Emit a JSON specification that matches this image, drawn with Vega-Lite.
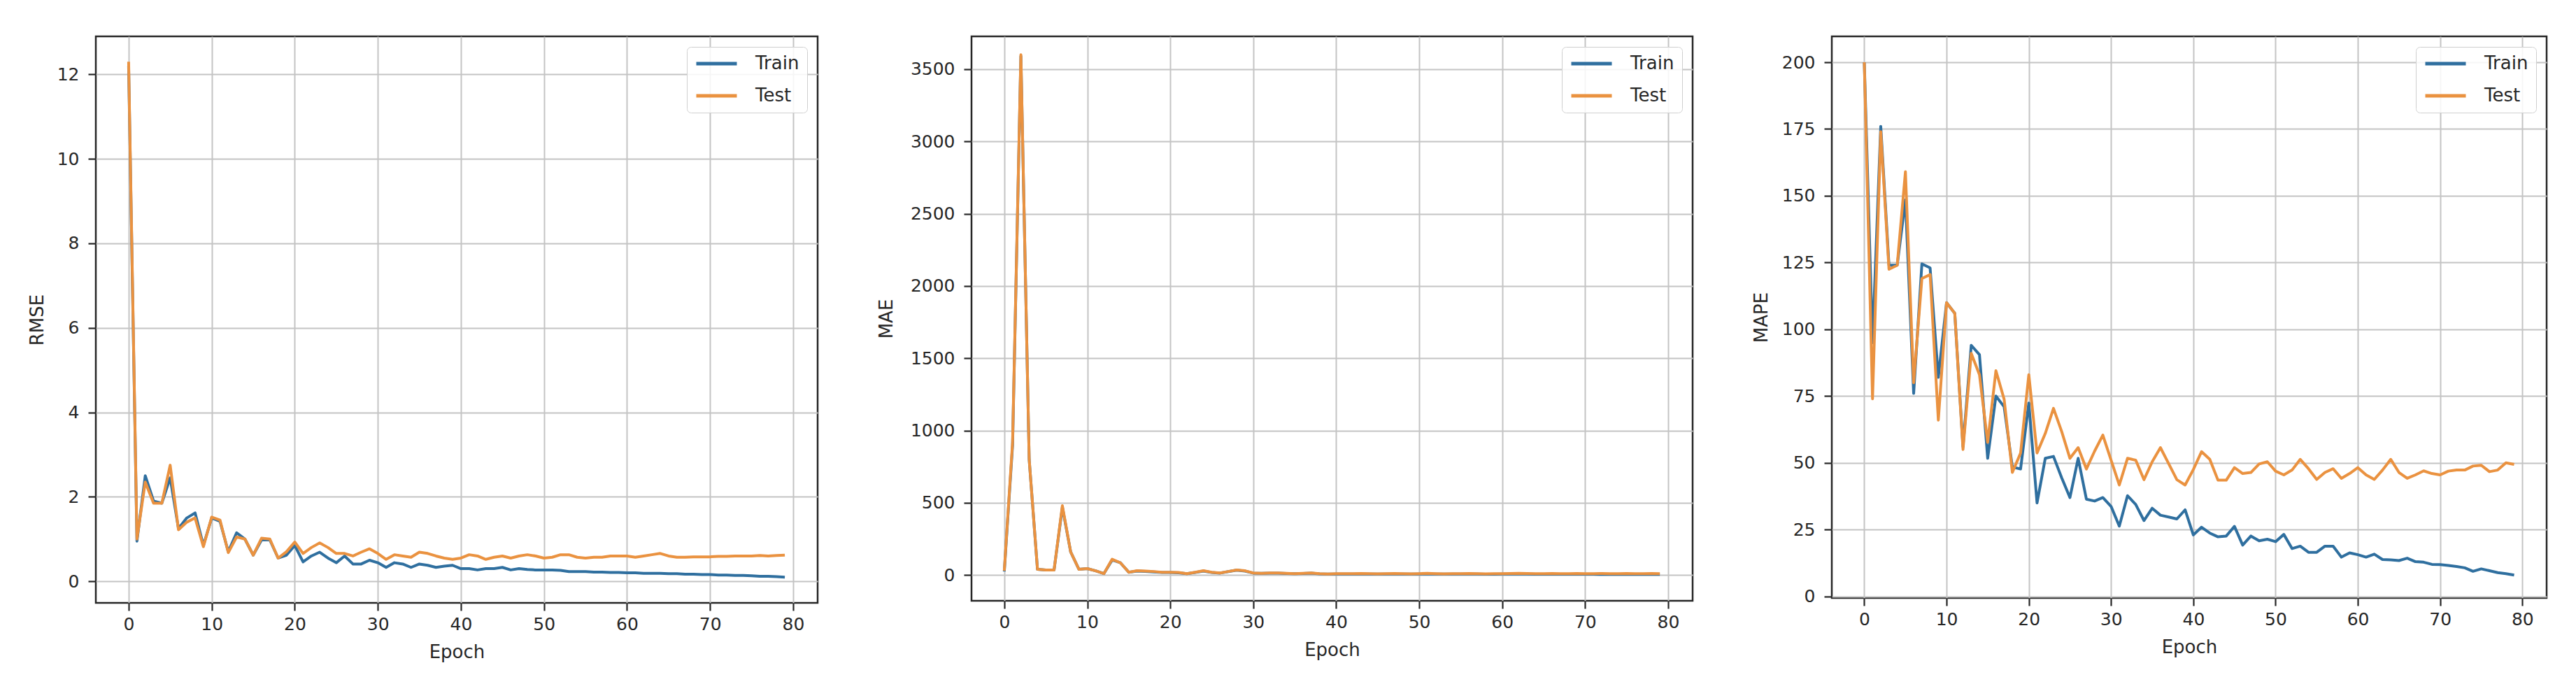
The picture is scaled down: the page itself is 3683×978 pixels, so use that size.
{
  "$schema": "https://vega.github.io/schema/vega-lite/v6.json",
  "background": "white",
  "padding": {"left": 38, "top": 50, "right": 0, "bottom": 0},
  "config": {
    "font": "DejaVu Sans",
    "view": {"stroke": "#262626", "strokeWidth": 2.5},
    "axis": {"domain": false, "grid": true, "gridColor": "#c4c4c4", "gridWidth": 2, "tickColor": "#262626", "tickWidth": 2.2, "tickSize": 11, "labelFont": "DejaVu Sans", "labelFontSize": 25, "labelColor": "#262626", "titleFont": "DejaVu Sans", "titleFontSize": 26, "titleFontWeight": "normal", "titleColor": "#262626", "labelOverlap": false},
    "axisX": {"labelPadding": 7, "titlePadding": 14},
    "axisY": {"labelPadding": 13},
    "legend": {"orient": "top-right", "offset": 15, "padding": 11, "fillColor": "rgba(255,255,255,0.85)", "strokeColor": "#cfcfcf", "cornerRadius": 6, "symbolType": "stroke", "symbolSize": 3364, "symbolStrokeWidth": 5, "clipHeight": 26, "rowPadding": 20, "labelOffset": 24, "labelFont": "DejaVu Sans", "labelFontSize": 26, "labelColor": "#262626"}
  },
  "datasets": {
    "rmse": [
      {"epoch":0,"Train":12.2,"Test":12.3},{"epoch":1,"Train":0.95,"Test":1.0},{"epoch":2,"Train":2.5,"Test":2.35},{"epoch":3,"Train":1.9,"Test":1.85},{"epoch":4,"Train":1.85,"Test":1.85},{"epoch":5,"Train":2.45,"Test":2.75},{"epoch":6,"Train":1.25,"Test":1.22},{"epoch":7,"Train":1.5,"Test":1.4},{"epoch":8,"Train":1.62,"Test":1.5},{"epoch":9,"Train":0.85,"Test":0.82},
      {"epoch":10,"Train":1.5,"Test":1.52},{"epoch":11,"Train":1.42,"Test":1.45},{"epoch":12,"Train":0.7,"Test":0.68},{"epoch":13,"Train":1.15,"Test":1.05},{"epoch":14,"Train":1.0,"Test":1.0},{"epoch":15,"Train":0.62,"Test":0.62},{"epoch":16,"Train":0.98,"Test":1.02},{"epoch":17,"Train":0.98,"Test":1.0},{"epoch":18,"Train":0.55,"Test":0.55},{"epoch":19,"Train":0.62,"Test":0.7},
      {"epoch":20,"Train":0.85,"Test":0.93},{"epoch":21,"Train":0.46,"Test":0.66},{"epoch":22,"Train":0.6,"Test":0.8},{"epoch":23,"Train":0.69,"Test":0.91},{"epoch":24,"Train":0.55,"Test":0.8},{"epoch":25,"Train":0.44,"Test":0.66},{"epoch":26,"Train":0.6,"Test":0.66},{"epoch":27,"Train":0.41,"Test":0.6},{"epoch":28,"Train":0.41,"Test":0.69},{"epoch":29,"Train":0.5,"Test":0.77},
      {"epoch":30,"Train":0.44,"Test":0.66},{"epoch":31,"Train":0.33,"Test":0.52},{"epoch":32,"Train":0.44,"Test":0.63},{"epoch":33,"Train":0.41,"Test":0.6},{"epoch":34,"Train":0.33,"Test":0.57},{"epoch":35,"Train":0.41,"Test":0.69},{"epoch":36,"Train":0.38,"Test":0.66},{"epoch":37,"Train":0.33,"Test":0.6},{"epoch":38,"Train":0.36,"Test":0.55},{"epoch":39,"Train":0.38,"Test":0.52},
      {"epoch":40,"Train":0.3,"Test":0.55},{"epoch":41,"Train":0.3,"Test":0.63},{"epoch":42,"Train":0.27,"Test":0.6},{"epoch":43,"Train":0.3,"Test":0.52},{"epoch":44,"Train":0.3,"Test":0.57},{"epoch":45,"Train":0.33,"Test":0.6},{"epoch":46,"Train":0.27,"Test":0.55},{"epoch":47,"Train":0.3,"Test":0.6},{"epoch":48,"Train":0.28,"Test":0.63},{"epoch":49,"Train":0.27,"Test":0.6},
      {"epoch":50,"Train":0.27,"Test":0.55},{"epoch":51,"Train":0.27,"Test":0.57},{"epoch":52,"Train":0.26,"Test":0.63},{"epoch":53,"Train":0.23,"Test":0.63},{"epoch":54,"Train":0.23,"Test":0.57},{"epoch":55,"Train":0.23,"Test":0.55},{"epoch":56,"Train":0.22,"Test":0.57},{"epoch":57,"Train":0.22,"Test":0.57},{"epoch":58,"Train":0.21,"Test":0.6},{"epoch":59,"Train":0.21,"Test":0.6},
      {"epoch":60,"Train":0.2,"Test":0.6},{"epoch":61,"Train":0.2,"Test":0.57},{"epoch":62,"Train":0.19,"Test":0.6},{"epoch":63,"Train":0.19,"Test":0.63},{"epoch":64,"Train":0.19,"Test":0.66},{"epoch":65,"Train":0.18,"Test":0.6},{"epoch":66,"Train":0.18,"Test":0.57},{"epoch":67,"Train":0.17,"Test":0.57},{"epoch":68,"Train":0.17,"Test":0.58},{"epoch":69,"Train":0.16,"Test":0.58},
      {"epoch":70,"Train":0.16,"Test":0.58},{"epoch":71,"Train":0.15,"Test":0.59},{"epoch":72,"Train":0.15,"Test":0.59},{"epoch":73,"Train":0.14,"Test":0.6},{"epoch":74,"Train":0.14,"Test":0.6},{"epoch":75,"Train":0.13,"Test":0.6},{"epoch":76,"Train":0.12,"Test":0.61},{"epoch":77,"Train":0.12,"Test":0.6},{"epoch":78,"Train":0.11,"Test":0.61},{"epoch":79,"Train":0.1,"Test":0.62}
    ],
    "mae": [
      {"epoch":0,"Train":25,"Test":30},{"epoch":1,"Train":900,"Test":920},{"epoch":2,"Train":3590,"Test":3600},{"epoch":3,"Train":800,"Test":800},{"epoch":4,"Train":40,"Test":40},{"epoch":5,"Train":35,"Test":35},{"epoch":6,"Train":35,"Test":35},{"epoch":7,"Train":470,"Test":480},{"epoch":8,"Train":160,"Test":160},{"epoch":9,"Train":40,"Test":40},
      {"epoch":10,"Train":45,"Test":45},{"epoch":11,"Train":30,"Test":30},{"epoch":12,"Train":10,"Test":10},{"epoch":13,"Train":105,"Test":110},{"epoch":14,"Train":85,"Test":85},{"epoch":15,"Train":20,"Test":20},{"epoch":16,"Train":28,"Test":30},{"epoch":17,"Train":26,"Test":28},{"epoch":18,"Train":22,"Test":25},{"epoch":19,"Train":18,"Test":20},
      {"epoch":20,"Train":18,"Test":20},{"epoch":21,"Train":16,"Test":18},{"epoch":22,"Train":10,"Test":10},{"epoch":23,"Train":18,"Test":20},{"epoch":24,"Train":28,"Test":30},{"epoch":25,"Train":18,"Test":20},{"epoch":26,"Train":14,"Test":15},{"epoch":27,"Train":24,"Test":25},{"epoch":28,"Train":34,"Test":35},{"epoch":29,"Train":28,"Test":30},
      {"epoch":30,"Train":14,"Test":15},{"epoch":31,"Train":12,"Test":12},{"epoch":32,"Train":14,"Test":15},{"epoch":33,"Train":14,"Test":15},{"epoch":34,"Train":11,"Test":12},{"epoch":35,"Train":10,"Test":10},{"epoch":36,"Train":11,"Test":12},{"epoch":37,"Train":14,"Test":15},{"epoch":38,"Train":9,"Test":10},{"epoch":39,"Train":8,"Test":8},
      {"epoch":40,"Train":8,"Test":10},{"epoch":41,"Train":8,"Test":10},{"epoch":42,"Train":8,"Test":10},{"epoch":43,"Train":8,"Test":11},{"epoch":44,"Train":7,"Test":10},{"epoch":45,"Train":7,"Test":9},{"epoch":46,"Train":8,"Test":10},{"epoch":47,"Train":8,"Test":11},{"epoch":48,"Train":7,"Test":10},{"epoch":49,"Train":7,"Test":9},
      {"epoch":50,"Train":7,"Test":10},{"epoch":51,"Train":8,"Test":12},{"epoch":52,"Train":7,"Test":10},{"epoch":53,"Train":7,"Test":9},{"epoch":54,"Train":7,"Test":10},{"epoch":55,"Train":7,"Test":10},{"epoch":56,"Train":7,"Test":11},{"epoch":57,"Train":7,"Test":10},{"epoch":58,"Train":6,"Test":9},{"epoch":59,"Train":6,"Test":10},
      {"epoch":60,"Train":7,"Test":10},{"epoch":61,"Train":7,"Test":11},{"epoch":62,"Train":7,"Test":12},{"epoch":63,"Train":7,"Test":11},{"epoch":64,"Train":6,"Test":10},{"epoch":65,"Train":6,"Test":10},{"epoch":66,"Train":6,"Test":11},{"epoch":67,"Train":6,"Test":10},{"epoch":68,"Train":6,"Test":10},{"epoch":69,"Train":6,"Test":11},
      {"epoch":70,"Train":6,"Test":10},{"epoch":71,"Train":6,"Test":10},{"epoch":72,"Train":5,"Test":11},{"epoch":73,"Train":5,"Test":10},{"epoch":74,"Train":5,"Test":10},{"epoch":75,"Train":5,"Test":11},{"epoch":76,"Train":5,"Test":10},{"epoch":77,"Train":5,"Test":10},{"epoch":78,"Train":5,"Test":11},{"epoch":79,"Train":5,"Test":10}
    ],
    "mape": [
      {"epoch":0,"Train":200,"Test":200},{"epoch":1,"Train":95,"Test":74},{"epoch":2,"Train":176,"Test":174},{"epoch":3,"Train":124,"Test":122.5},{"epoch":4,"Train":124,"Test":124},{"epoch":5,"Train":148.5,"Test":159},{"epoch":6,"Train":76,"Test":80},{"epoch":7,"Train":124.5,"Test":119},{"epoch":8,"Train":123,"Test":120.5},{"epoch":9,"Train":82,"Test":66},
      {"epoch":10,"Train":110,"Test":110},{"epoch":11,"Train":106,"Test":106},{"epoch":12,"Train":56,"Test":55},{"epoch":13,"Train":94,"Test":91},{"epoch":14,"Train":90.5,"Test":83},{"epoch":15,"Train":51.7,"Test":57.7},{"epoch":16,"Train":75,"Test":84.5},{"epoch":17,"Train":71,"Test":73.8},{"epoch":18,"Train":48.4,"Test":46.4},{"epoch":19,"Train":47.7,"Test":53.7},
      {"epoch":20,"Train":72.4,"Test":83},{"epoch":21,"Train":35,"Test":53.7},{"epoch":22,"Train":51.7,"Test":61},{"epoch":23,"Train":52.4,"Test":70.4},{"epoch":24,"Train":44.4,"Test":61.7},{"epoch":25,"Train":37,"Test":51.7},{"epoch":26,"Train":51.7,"Test":55.7},{"epoch":27,"Train":36.4,"Test":47.7},{"epoch":28,"Train":35.7,"Test":54.4},{"epoch":29,"Train":37,"Test":60.4},
      {"epoch":30,"Train":33.7,"Test":51},{"epoch":31,"Train":26.3,"Test":41.7},{"epoch":32,"Train":37.7,"Test":51.7},{"epoch":33,"Train":34.4,"Test":51},{"epoch":34,"Train":28.4,"Test":43.7},{"epoch":35,"Train":33,"Test":50.4},{"epoch":36,"Train":30.4,"Test":55.7},{"epoch":37,"Train":29.7,"Test":49.7},{"epoch":38,"Train":29,"Test":43.7},{"epoch":39,"Train":32.4,"Test":41.7},
      {"epoch":40,"Train":23,"Test":47.5},{"epoch":41,"Train":25.9,"Test":54.2},{"epoch":42,"Train":23.7,"Test":51.3},{"epoch":43,"Train":22.3,"Test":43.5},{"epoch":44,"Train":22.6,"Test":43.5},{"epoch":45,"Train":26.2,"Test":48.2},{"epoch":46,"Train":19.2,"Test":46},{"epoch":47,"Train":22.6,"Test":46.4},{"epoch":48,"Train":20.8,"Test":49.6},{"epoch":49,"Train":21.4,"Test":50.4},
      {"epoch":50,"Train":20.5,"Test":46.9},{"epoch":51,"Train":23.2,"Test":45.5},{"epoch":52,"Train":17.9,"Test":47.3},{"epoch":53,"Train":18.8,"Test":51.3},{"epoch":54,"Train":16.5,"Test":47.8},{"epoch":55,"Train":16.5,"Test":43.8},{"epoch":56,"Train":18.8,"Test":46.4},{"epoch":57,"Train":18.8,"Test":47.8},{"epoch":58,"Train":14.7,"Test":44.2},{"epoch":59,"Train":16.3,"Test":46},
      {"epoch":60,"Train":15.6,"Test":48.2},{"epoch":61,"Train":14.7,"Test":45.5},{"epoch":62,"Train":15.8,"Test":43.8},{"epoch":63,"Train":13.8,"Test":47.3},{"epoch":64,"Train":13.7,"Test":51.3},{"epoch":65,"Train":13.4,"Test":46.4},{"epoch":66,"Train":14.3,"Test":44.2},{"epoch":67,"Train":13,"Test":45.5},{"epoch":68,"Train":12.8,"Test":47},{"epoch":69,"Train":12,"Test":46},
      {"epoch":70,"Train":11.9,"Test":45.5},{"epoch":71,"Train":11.6,"Test":46.9},{"epoch":72,"Train":11.2,"Test":47.3},{"epoch":73,"Train":10.7,"Test":47.3},{"epoch":74,"Train":9.4,"Test":48.8},{"epoch":75,"Train":10.3,"Test":49.1},{"epoch":76,"Train":9.6,"Test":46.7},{"epoch":77,"Train":8.9,"Test":47.3},{"epoch":78,"Train":8.5,"Test":50},{"epoch":79,"Train":8,"Test":49.4}
    ]
  },
  "spacing": 82,
  "resolve": {"scale": {"x": "independent", "y": "independent", "color": "independent"}, "legend": {"color": "independent"}, "axis": {"x": "independent", "y": "independent"}},
  "hconcat": [
    {
      "width": 1032, "height": 810,
      "data": {"name": "rmse"},
      "encoding": {
        "x": {"field": "epoch", "type": "quantitative", "scale": {"domain": [-3.95, 82.95], "nice": false, "zero": false}, "axis": {"values": [0,10,20,30,40,50,60,70,80], "title": "Epoch", "format": "d"}}
      },
      "layer": [
        {"mark": {"type": "line", "strokeWidth": 4, "strokeJoin": "round"},
         "encoding": {
           "y": {"field": "Train", "type": "quantitative", "scale": {"domain": [-0.51, 12.9], "nice": false, "zero": false}, "axis": {"values": [0,2,4,6,8,10,12], "title": "RMSE", "titlePadding": 15, "format": "d"}},
           "color": {"datum": "Train", "type": "nominal", "scale": {"domain": ["Train", "Test"], "range": ["#2f6f9f", "#ea9240"]}, "legend": {"title": null}}
         }},
        {"mark": {"type": "line", "strokeWidth": 4, "strokeJoin": "round"},
         "encoding": {
           "y": {"field": "Test", "type": "quantitative"},
           "color": {"datum": "Test", "type": "nominal"}
         }}
      ]
    },
    {
      "width": 1031, "height": 807,
      "data": {"name": "mae"},
      "encoding": {
        "x": {"field": "epoch", "type": "quantitative", "scale": {"domain": [-3.95, 82.95], "nice": false, "zero": false}, "axis": {"values": [0,10,20,30,40,50,60,70,80], "title": "Epoch", "format": "d"}}
      },
      "layer": [
        {"mark": {"type": "line", "strokeWidth": 4, "strokeJoin": "round"},
         "encoding": {
           "y": {"field": "Train", "type": "quantitative", "scale": {"domain": [-177.6, 3727], "nice": false, "zero": false}, "axis": {"values": [0,500,1000,1500,2000,2500,3000,3500], "title": "MAE", "titlePadding": 21, "format": "d"}},
           "color": {"datum": "Train", "type": "nominal", "scale": {"domain": ["Train", "Test"], "range": ["#2f6f9f", "#ea9240"]}, "legend": {"title": null}}
         }},
        {"mark": {"type": "line", "strokeWidth": 4, "strokeJoin": "round"},
         "encoding": {
           "y": {"field": "Test", "type": "quantitative"},
           "color": {"datum": "Test", "type": "nominal"}
         }}
      ]
    },
    {
      "width": 1022, "height": 803,
      "data": {"name": "mape"},
      "encoding": {
        "x": {"field": "epoch", "type": "quantitative", "scale": {"domain": [-3.95, 82.95], "nice": false, "zero": false}, "axis": {"values": [0,10,20,30,40,50,60,70,80], "title": "Epoch", "format": "d"}}
      },
      "layer": [
        {"mark": {"type": "line", "strokeWidth": 4, "strokeJoin": "round"},
         "encoding": {
           "y": {"field": "Train", "type": "quantitative", "scale": {"domain": [-0.6, 209.7], "nice": false, "zero": false}, "axis": {"values": [0,25,50,75,100,125,150,175,200], "title": "MAPE", "titlePadding": 16, "format": "d"}},
           "color": {"datum": "Train", "type": "nominal", "scale": {"domain": ["Train", "Test"], "range": ["#2f6f9f", "#ea9240"]}, "legend": {"title": null}}
         }},
        {"mark": {"type": "line", "strokeWidth": 4, "strokeJoin": "round"},
         "encoding": {
           "y": {"field": "Test", "type": "quantitative"},
           "color": {"datum": "Test", "type": "nominal"}
         }}
      ]
    }
  ]
}
